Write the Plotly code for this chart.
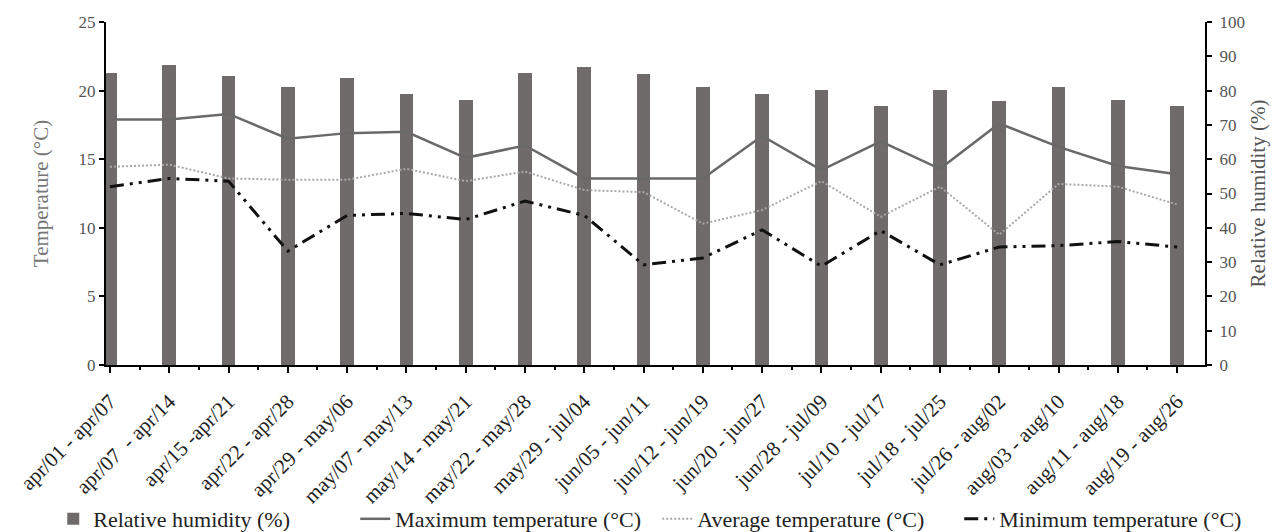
import plotly.graph_objects as go

periods = ["apr/01 - apr/07", "apr/07  - apr/14", "apr/15 -apr/21", "apr/22 - apr/28",
           "apr/29 - may/06", "may/07 - may/13", "may/14 - may/21", "may/22 - may/28",
           "may/29 - jul/04", "jun/05 - jun/11", "jun/12 - jun/19", "jun/20 - jun/27",
           "jun/28 - jul/09", "jul/10 - jul/17", "jul/18 - jul/25", "jul/26 - aug/02",
           "aug/03 - aug/10", "aug/11 - aug/18", "aug/19 - aug/26"]

relative_humidity = [85.0, 87.4, 84.3, 81.0, 83.6, 79.0, 77.3, 85.2, 87.0, 84.8,
                     81.0, 79.0, 80.2, 75.5, 80.2, 77.0, 81.0, 77.2, 75.5]
max_temperature = [17.9, 17.9, 18.3, 16.5, 16.9, 17.0, 15.1, 16.0, 13.6, 13.6,
                   13.6, 16.7, 14.2, 16.3, 14.3, 17.6, 15.9, 14.5, 13.9]
avg_temperature = [14.45, 14.6, 13.6, 13.5, 13.5, 14.3, 13.4, 14.1, 12.75, 12.6,
                   10.3, 11.3, 13.4, 10.8, 13.0, 9.5, 13.2, 13.0, 11.7]
min_temperature = [13.0, 13.6, 13.4, 8.3, 10.9, 11.05, 10.6, 11.95, 10.9, 7.3,
                   7.8, 9.85, 7.2, 9.8, 7.3, 8.6, 8.7, 9.0, 8.6]

xs = list(range(len(periods)))
FONT = "Liberation Serif"

fig = go.Figure()
fig.add_trace(go.Bar(x=xs, y=relative_humidity, yaxis="y", width=0.23,
                     marker=dict(color="#6f6b6b", line=dict(width=0)),
                     name="Relative humidity (%)"))
fig.add_trace(go.Scatter(x=xs, y=max_temperature, yaxis="y2", mode="lines",
                         line=dict(color="#696969", width=2.5),
                         name="Maximum temperature (°C)"))
fig.add_trace(go.Scatter(x=xs, y=avg_temperature, yaxis="y2", mode="lines",
                         line=dict(color="#a8a8a8", width=2, dash="2px,2px"),
                         name="Average temperature (°C)"))
fig.add_trace(go.Scatter(x=xs, y=min_temperature, yaxis="y2", mode="lines",
                         line=dict(color="#111111", width=3, dash="14px,6px,3px,6px,3px,6px"),
                         name="Minimum temperature (°C)"))

fig.update_layout(
    width=1285, height=532,
    margin=dict(l=106, r=80, t=22, b=167, autoexpand=False),
    paper_bgcolor="white", plot_bgcolor="white",
    font=dict(family=FONT, size=20, color="#222"),
    bargap=0,
    xaxis=dict(range=[-0.067, 18.47], tickmode="array", tickvals=xs, ticktext=periods,
               tickangle=-45, ticks="outside", ticklen=6, tickwidth=1.5, tickcolor="black",
               showline=True, linecolor="black", linewidth=2, showgrid=False, zeroline=False,
               automargin=False, ticklabelstandoff=8,
               tickfont=dict(family=FONT, size=21, color="#222"),
               minor=dict(tickmode="array", tickvals=[i + 0.5 for i in xs], ticks="outside",
                          ticklen=3, tickwidth=1.5, tickcolor="black")),
    yaxis=dict(range=[0, 100], dtick=10, side="right", ticks="outside", ticklen=5,
               tickwidth=1.5, tickcolor="black", showline=True, linecolor="black", linewidth=2,
               showgrid=False, zeroline=False, automargin=False, ticklabelstandoff=4,
               tickfont=dict(family=FONT, size=17, color="#555"),
               title=dict(text="Relative humidity (%)", standoff=6,
                          font=dict(family=FONT, size=21, color="#555"))),
    yaxis2=dict(range=[0, 25], dtick=5, side="left", overlaying="y", ticks="outside", ticklen=5,
                tickwidth=1.5, tickcolor="black", showline=True, linecolor="black", linewidth=2,
                showgrid=False, zeroline=False, automargin=False,
                tickfont=dict(family=FONT, size=17, color="#555"),
                title=dict(text="Temperature (°C)", standoff=24,
                           font=dict(family=FONT, size=21, color="#777"))),
    legend=dict(orientation="h", x=-0.048, xanchor="left", y=-0.449, yanchor="middle",
                entrywidth=257, entrywidthmode="pixels",
                font=dict(family=FONT, size=22, color="#222"), traceorder="normal",
                bgcolor="rgba(0,0,0,0)"),
    showlegend=True,
)

fig.write_html("out.html")
